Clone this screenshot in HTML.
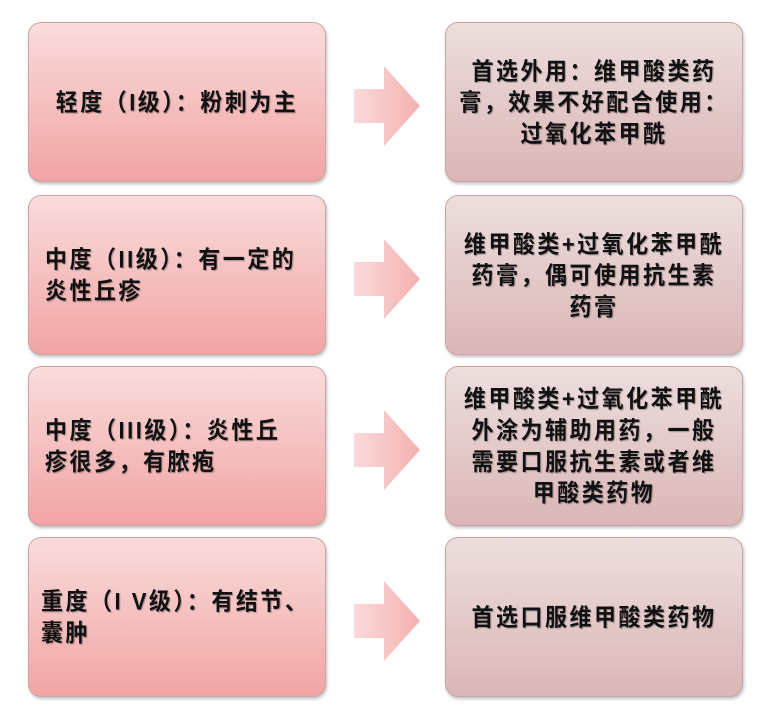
<!DOCTYPE html>
<html><head><meta charset="utf-8"><style>
body{margin:0;width:776px;height:722px;background:#fff;position:relative;overflow:hidden;font-family:"Liberation Sans","Noto Sans CJK SC",sans-serif;}
.b{position:absolute;width:298px;height:160px;border-radius:13px;box-sizing:border-box;border:1px solid #c9a5a5;display:flex;align-items:center;justify-content:center;text-align:center;font-size:22px;letter-spacing:2.5px;font-weight:bold;color:#111;line-height:29px;box-shadow:1px 2px 3px rgba(0,0,0,.25);text-shadow:1px 1px 1px rgba(0,0,0,.3);padding:0 4px;white-space:nowrap;}
.b span{display:block;transform:scaleY(1.08);}
.l{left:28px;background:linear-gradient(#f9dcdc,#f2a4a4);}
.r{left:445px;background:linear-gradient(#eddede,#dbb6b6);}
.lt{justify-content:flex-start;text-align:left;padding-left:16px;}
svg{position:absolute;left:354px;}
</style></head><body>
<div class="b l" style="top:22px"><span>轻度（I级）：粉刺为主</span></div>
<div class="b l lt" style="top:195px"><span>中度（II级）：有一定的<br>炎性丘疹</span></div>
<div class="b l lt" style="top:366px"><span>中度（III级）：炎性丘<br>疹很多，有脓疱</span></div>
<div class="b l lt" style="top:537px;padding-left:12px"><span>重度（I V级）：有结节、<br>囊肿</span></div>
<div class="b r" style="top:22px"><span>首选外用：维甲酸类药<br>膏，效果不好配合使用：<br>过氧化苯甲酰</span></div>
<div class="b r" style="top:195px"><span>维甲酸类+过氧化苯甲酰<br>药膏，偶可使用抗生素<br>药膏</span></div>
<div class="b r" style="top:366px"><span>维甲酸类+过氧化苯甲酰<br>外涂为辅助用药，一般<br>需要口服抗生素或者维<br>甲酸类药物</span></div>
<div class="b r" style="top:537px"><span>首选口服维甲酸类药物</span></div>
<svg width="70" height="700" viewBox="0 0 70 700">
<defs><linearGradient id="g" x1="0" x2="1"><stop offset="0" stop-color="#fadada"/><stop offset="1" stop-color="#f4b0b0"/></linearGradient></defs>
<g fill="url(#g)">
<path d="M0 89H30V66L66 106L30 146V123H0Z"/>
<path d="M0 262H30V239L66 279L30 319V296H0Z"/>
<path d="M0 433H30V410L66 450L30 490V467H0Z"/>
<path d="M0 604H30V581L66 621L30 661V638H0Z"/>
</g></svg>
</body></html>
